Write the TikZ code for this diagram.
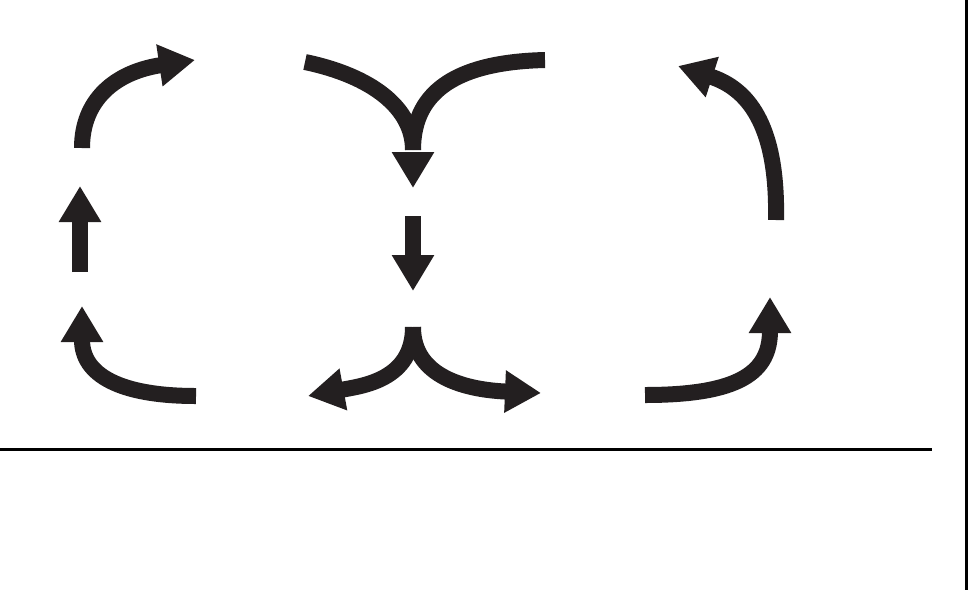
\documentclass[tikz,border=0pt]{standalone}
\usetikzlibrary{positioning,arrows.meta}
\definecolor{ArrowInk}{RGB}{35,31,32}
\tikzset{
  cellflow/.style={-{Triangle[length=36pt,width=40pt]},line width=16pt,draw=ArrowInk},
  cellline/.style={line width=16pt,draw=ArrowInk},
  rimline/.style={line width=3pt,draw=black}
}
\begin{document}
\begin{tikzpicture}[x=1pt,y=-1pt]
  \useasboundingbox (0,0) rectangle (969,590);
  % left cell
  \coordinate (lTopA) at (82,148);  \coordinate (lTopB) at (195,60);
  \coordinate (lMidA) at (80,272);  \coordinate (lMidB) at (80,186);
  \coordinate (lBotA) at (196,396); \coordinate (lBotB) at (82,306);
  \draw[cellflow] (lTopA) .. controls (82,100) and (115,72) .. (lTopB);
  \draw[cellflow] (lMidA) -- (lMidB);
  \draw[cellflow] (lBotA) .. controls (120,396) and (82,375) .. (lBotB);
  % centre, sinking
  \coordinate (cLeft) at (305,62); \coordinate (cRight) at (545,60);
  \coordinate (cMerge) at (413,150); \coordinate (cTip) at (413,188);
  \draw[cellline] (cLeft) .. controls (372,76) and (413,108) .. (cMerge);
  \draw[cellline] (cRight) .. controls (462,62) and (413,88) .. (cMerge);
  \draw[cellflow] ([yshift=-20pt]cMerge) -- (cTip);
  \coordinate (cMidA) at (413,216); \coordinate (cMidB) at (413,291);
  \draw[cellflow] (cMidA) -- (cMidB);
  % centre, spreading
  \coordinate (cSplit) at (413,327);
  \coordinate (cOutL) at (308,396); \coordinate (cOutR) at (541,393);
  \draw[cellflow] (cSplit) .. controls (413,380) and (362,386) .. (cOutL);
  \draw[cellflow] (cSplit) .. controls (413,378) and (468,390) .. (cOutR);
  % right cell
  \coordinate (rBotA) at (645,395); \coordinate (rBotB) at (770,297);
  \coordinate (rTopA) at (776,220); \coordinate (rTopB) at (678,66);
  \draw[cellflow] (rBotA) .. controls (740,395) and (770,372) .. (rBotB);
  \draw[cellflow] (rTopA) .. controls (778,122) and (746,88) .. (rTopB);
  % frame
  \coordinate (gWest) at (0,449); \coordinate (gEast) at (932,449);
  \coordinate (eTop) at (966,0); \coordinate (eBot) at (966,590);
  \draw[rimline] (gWest) -- (gEast);
  \draw[rimline] (eTop) -- (eBot);
\end{tikzpicture}
\end{document}
